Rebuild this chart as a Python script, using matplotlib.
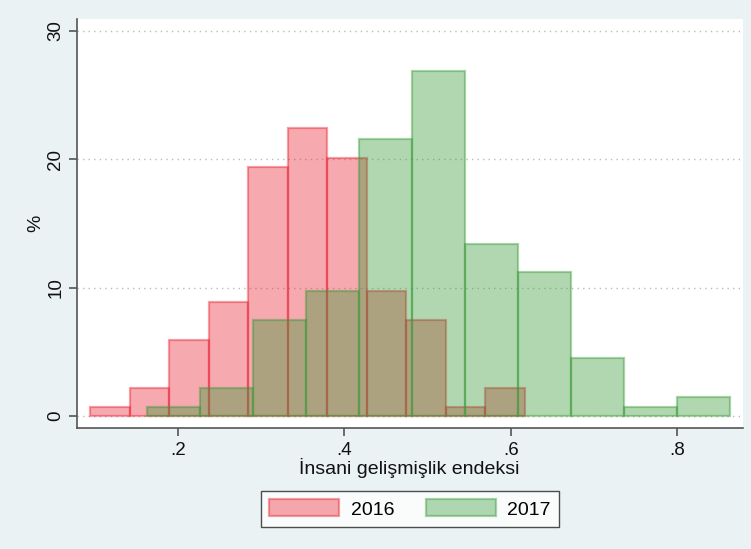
import matplotlib
matplotlib.use("Agg")
import matplotlib.pyplot as plt
import numpy as np

# ---- data ----
labels = ["2016", "2017"]
start_2016 = 0.0942
width_2016 = 0.0475
pct_2016 = [0.7, 2.2, 5.9, 8.9, 19.4, 22.4, 20.1, 9.7, 7.5, 0.7, 2.2]
start_2017 = 0.1631
width_2017 = 0.0637
pct_2017 = [0.7, 2.2, 7.5, 9.7, 21.6, 26.9, 13.4, 11.2, 4.5, 0.7, 1.5]
xticks = [0.2, 0.4, 0.6, 0.8]
xticklabels = [".2", ".4", ".6", ".8"]
yticks = [0, 10, 20, 30]
xlabel = "İnsani gelişmişlik endeksi"
ylabel = "%"

plt.rcParams['font.family'] = ['Liberation Sans', 'DejaVu Sans']

bg = "#EAF2F3"
red = (232/255, 30/255, 45/255)
green = (52/255, 152/255, 52/255)

fig = plt.figure(figsize=(7.51, 5.49), dpi=100, facecolor=bg)
ax = fig.add_axes([0.1021, 0.2199, 0.8868, 0.7455])
ax.set_facecolor("white")

for yv in yticks:
    ax.axhline(yv, color="#BBBBBB", lw=1.0, ls=(0, (1, 3)), zorder=0.5)

def draw(start, width, vals, col, z):
    lefts = start + width * np.arange(len(vals))
    ax.bar(lefts, vals, width=width, align="edge",
           facecolor=(*col, 0.38), edgecolor=(*col, 0.42), linewidth=1.6, zorder=z)

draw(start_2016, width_2016, pct_2016, red, 2)
draw(start_2017, width_2017, pct_2017, green, 3)

ax.set_xlim(0.0782, 0.8787)
ax.set_ylim(-0.96, 30.92)

for s in ["top", "right"]:
    ax.spines[s].set_visible(False)
for s in ["left", "bottom"]:
    ax.spines[s].set_color("#555555")
    ax.spines[s].set_linewidth(1.2)

ax.set_xticks(xticks)
ax.set_xticklabels(xticklabels)
ax.set_yticks(yticks)
ax.set_yticklabels([str(v) for v in yticks], rotation=90, va="center")
ax.tick_params(axis="both", direction="out", length=6, width=1.2, color="#555555",
               labelsize=13.5, labelcolor="#111111", pad=4)
ax.tick_params(axis="y", pad=3)

ax.set_xlabel(xlabel, fontsize=14, color="#111111", labelpad=-1)
ax.set_ylabel(ylabel, fontsize=14, color="#111111", labelpad=2)

from matplotlib.patches import Patch
handles = [Patch(facecolor=(*red, 0.38), edgecolor=(*red, 0.42), linewidth=1.6),
           Patch(facecolor=(*green, 0.38), edgecolor=(*green, 0.42), linewidth=1.6)]
leg = fig.legend(handles, labels, loc="center", bbox_to_anchor=(410/751, 1 - 509/549),
                 ncol=2, frameon=True, fancybox=False, fontsize=14,
                 handlelength=3.6, handleheight=0.95, handletextpad=0.6,
                 columnspacing=1.6, borderpad=0.45, edgecolor="#222222")
leg.get_frame().set_linewidth(1.0)
leg.get_frame().set_facecolor("white")

fig.savefig("out.png", dpi=100, facecolor=bg)
